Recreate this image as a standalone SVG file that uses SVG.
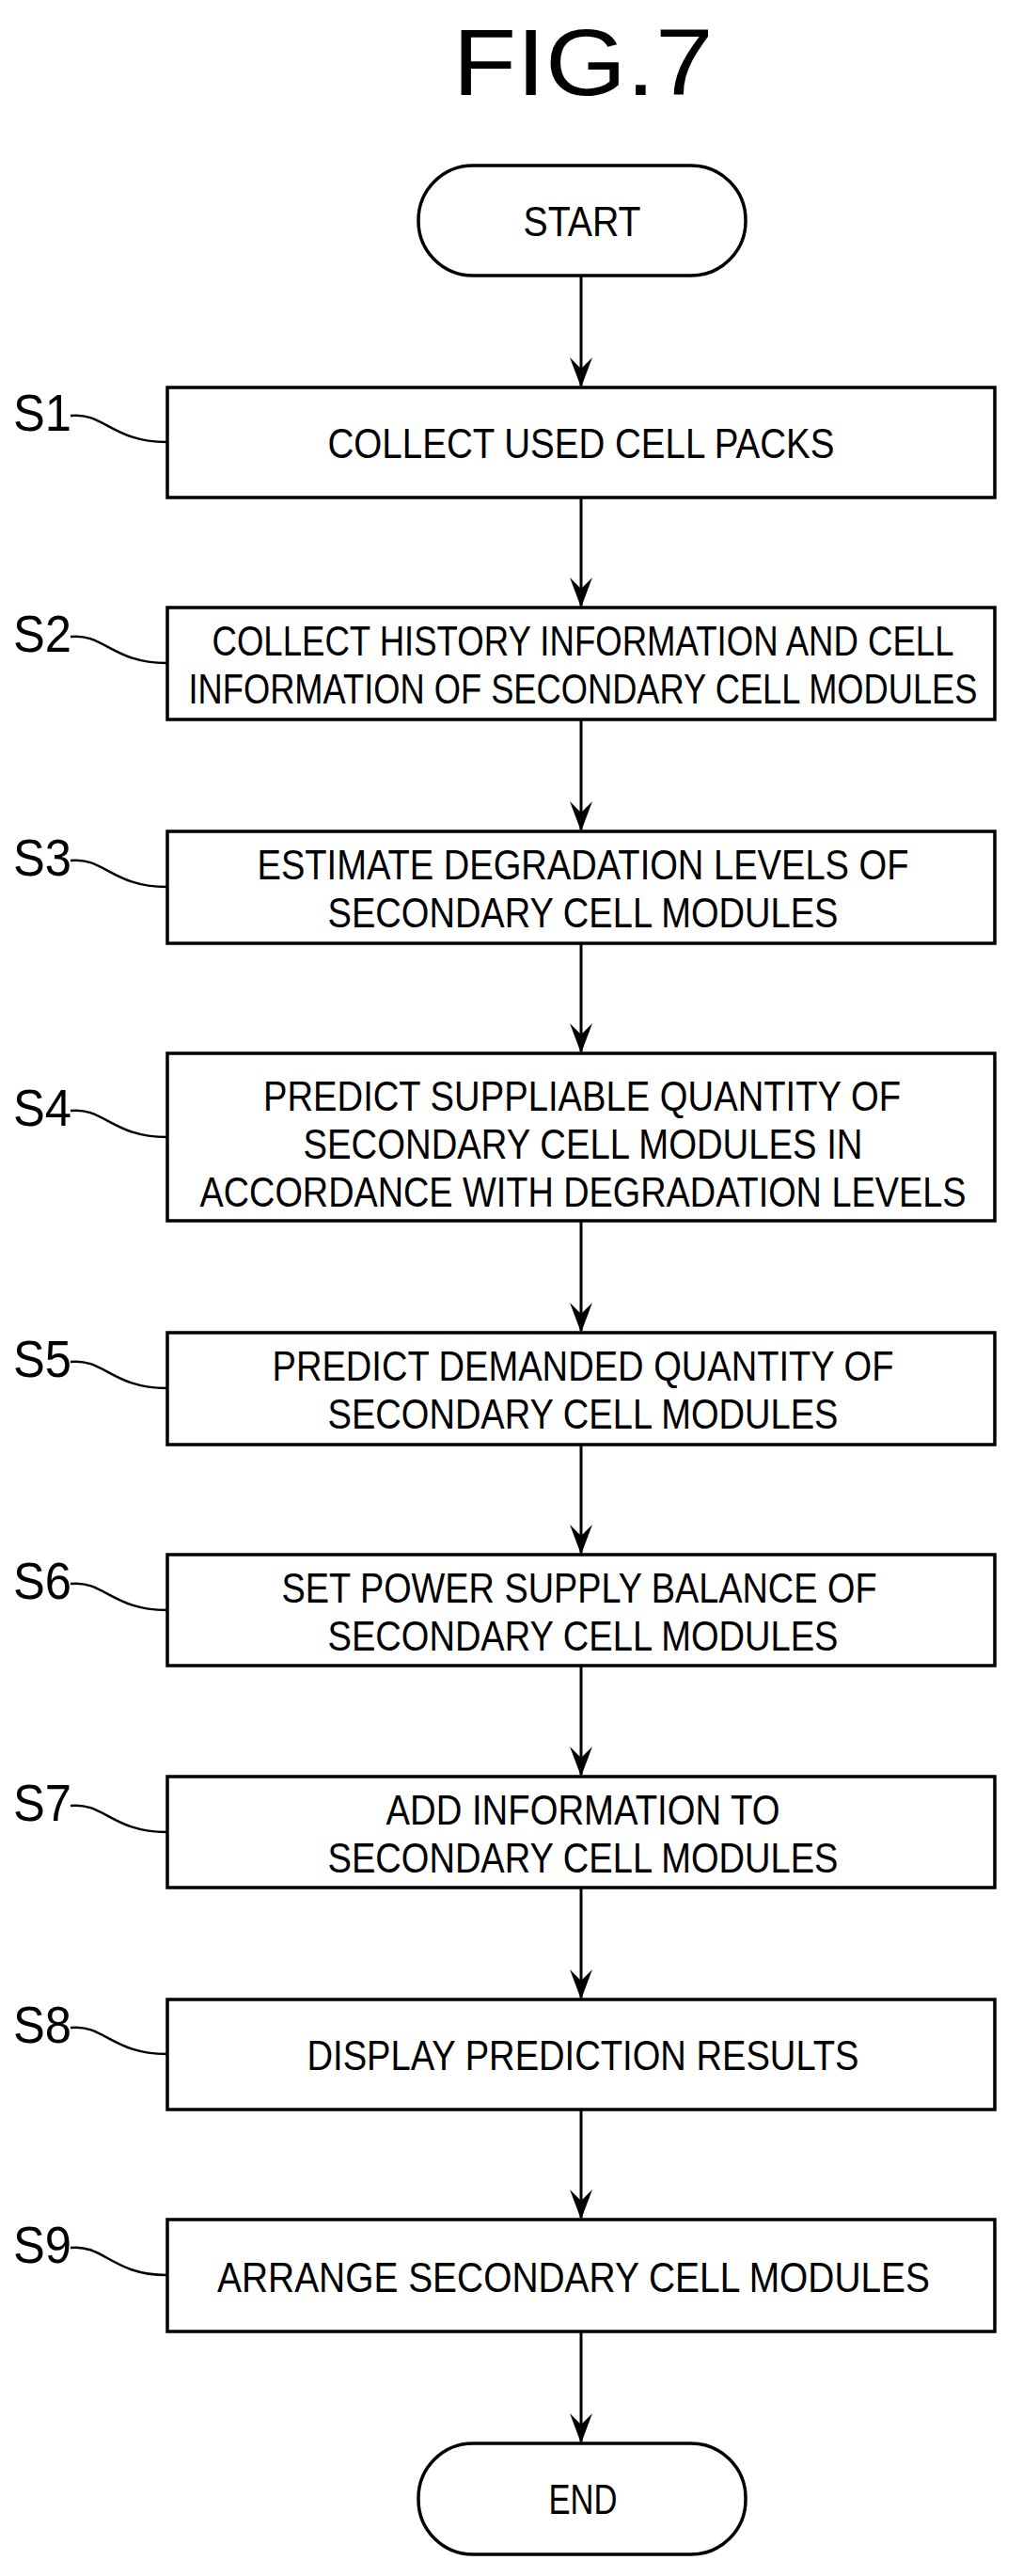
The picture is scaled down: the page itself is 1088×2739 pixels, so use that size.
<svg xmlns="http://www.w3.org/2000/svg" width="1088" height="2739" viewBox="0 0 1088 2739">
<style>
.b{fill:#fff;stroke:#000;stroke-width:3.5}
.t{font-family:"Liberation Sans",sans-serif;font-size:45px;text-anchor:middle}
.l{font-family:"Liberation Sans",sans-serif;font-size:56px}
.c{fill:none;stroke:#000;stroke-width:3}
.ld{fill:none;stroke:#000;stroke-width:2.5}
</style>
<text x="620" y="101" style="font-family:'Liberation Sans',sans-serif;font-size:100px;text-anchor:middle" textLength="277" lengthAdjust="spacingAndGlyphs">FIG.7</text>
<g id="connectors">
<path class="c" d="M618 293V410M618 529V644M618 765V882M618 1003V1118M618 1298V1415M618 1536V1651M618 1771V1887M618 2007V2124M618 2243V2358M618 2479V2596"/>
<g fill="#000">
<path d="M606 380L618 412L630 380L618 392Z"/><path d="M606 614L618 646L630 614L618 626Z"/><path d="M606 852L618 884L630 852L618 864Z"/><path d="M606 1088L618 1120L630 1088L618 1100Z"/><path d="M606 1385L618 1417L630 1385L618 1397Z"/><path d="M606 1621L618 1653L630 1621L618 1633Z"/><path d="M606 1857L618 1889L630 1857L618 1869Z"/><path d="M606 2094L618 2126L630 2094L618 2106Z"/><path d="M606 2328L618 2360L630 2328L618 2340Z"/><path d="M606 2566L618 2598L630 2566L618 2578Z"/>
</g>
</g>
<g id="start"><rect class="b" x="445" y="176" width="348" height="117" rx="58"/><text class="t" x="619" y="251" textLength="125" lengthAdjust="spacingAndGlyphs">START</text></g>
<g id="s1"><rect class="b" x="178" y="412" width="880" height="117"/><text class="t" x="618" y="487" textLength="539" lengthAdjust="spacingAndGlyphs">COLLECT USED CELL PACKS</text><text class="l" x="14" y="458" textLength="62" lengthAdjust="spacingAndGlyphs">S1</text><path class="ld" d="M75 442C110 438 120 470 177 470"/></g>
<g id="s2"><rect class="b" x="178" y="646" width="880" height="119"/><text class="t" x="620" y="697" textLength="789" lengthAdjust="spacingAndGlyphs">COLLECT HISTORY INFORMATION AND CELL</text><text class="t" x="620" y="748" textLength="839" lengthAdjust="spacingAndGlyphs">INFORMATION OF SECONDARY CELL MODULES</text><text class="l" x="14" y="693" textLength="62" lengthAdjust="spacingAndGlyphs">S2</text><path class="ld" d="M75 677C110 673 120 705 177 705"/></g>
<g id="s3"><rect class="b" x="178" y="884" width="880" height="119"/><text class="t" x="620" y="935" textLength="693" lengthAdjust="spacingAndGlyphs">ESTIMATE DEGRADATION LEVELS OF</text><text class="t" x="620" y="986" textLength="543" lengthAdjust="spacingAndGlyphs">SECONDARY CELL MODULES</text><text class="l" x="14" y="931" textLength="62" lengthAdjust="spacingAndGlyphs">S3</text><path class="ld" d="M75 915C110 911 120 943 177 943"/></g>
<g id="s4"><rect class="b" x="178" y="1120" width="880" height="178"/><text class="t" x="619" y="1181" textLength="678" lengthAdjust="spacingAndGlyphs">PREDICT SUPPLIABLE QUANTITY OF</text><text class="t" x="620" y="1232" textLength="595" lengthAdjust="spacingAndGlyphs">SECONDARY CELL MODULES IN</text><text class="t" x="620" y="1283" textLength="815" lengthAdjust="spacingAndGlyphs">ACCORDANCE WITH DEGRADATION LEVELS</text><text class="l" x="14" y="1197" textLength="62" lengthAdjust="spacingAndGlyphs">S4</text><path class="ld" d="M75 1181C110 1177 120 1209 177 1209"/></g>
<g id="s5"><rect class="b" x="178" y="1417" width="880" height="119"/><text class="t" x="620" y="1468" textLength="661" lengthAdjust="spacingAndGlyphs">PREDICT DEMANDED QUANTITY OF</text><text class="t" x="620" y="1519" textLength="543" lengthAdjust="spacingAndGlyphs">SECONDARY CELL MODULES</text><text class="l" x="14" y="1464" textLength="62" lengthAdjust="spacingAndGlyphs">S5</text><path class="ld" d="M75 1448C110 1444 120 1476 177 1476"/></g>
<g id="s6"><rect class="b" x="178" y="1653" width="880" height="118"/><text class="t" x="616" y="1704" textLength="633" lengthAdjust="spacingAndGlyphs">SET POWER SUPPLY BALANCE OF</text><text class="t" x="620" y="1755" textLength="543" lengthAdjust="spacingAndGlyphs">SECONDARY CELL MODULES</text><text class="l" x="14" y="1700" textLength="62" lengthAdjust="spacingAndGlyphs">S6</text><path class="ld" d="M75 1684C110 1680 120 1712 177 1712"/></g>
<g id="s7"><rect class="b" x="178" y="1889" width="880" height="118"/><text class="t" x="620" y="1940" textLength="419" lengthAdjust="spacingAndGlyphs">ADD INFORMATION TO</text><text class="t" x="620" y="1991" textLength="543" lengthAdjust="spacingAndGlyphs">SECONDARY CELL MODULES</text><text class="l" x="14" y="1936" textLength="62" lengthAdjust="spacingAndGlyphs">S7</text><path class="ld" d="M75 1920C110 1916 120 1948 177 1948"/></g>
<g id="s8"><rect class="b" x="178" y="2126" width="880" height="117"/><text class="t" x="620" y="2201" textLength="587" lengthAdjust="spacingAndGlyphs">DISPLAY PREDICTION RESULTS</text><text class="l" x="14" y="2172" textLength="62" lengthAdjust="spacingAndGlyphs">S8</text><path class="ld" d="M75 2156C110 2152 120 2184 177 2184"/></g>
<g id="s9"><rect class="b" x="178" y="2360" width="880" height="119"/><text class="t" x="610" y="2437" textLength="758" lengthAdjust="spacingAndGlyphs">ARRANGE SECONDARY CELL MODULES</text><text class="l" x="14" y="2406" textLength="62" lengthAdjust="spacingAndGlyphs">S9</text><path class="ld" d="M75 2390C110 2386 120 2419 177 2419"/></g>
<g id="end"><rect class="b" x="445" y="2598" width="348" height="118" rx="58"/><text class="t" x="620" y="2673" textLength="73" lengthAdjust="spacingAndGlyphs">END</text></g>
</svg>
